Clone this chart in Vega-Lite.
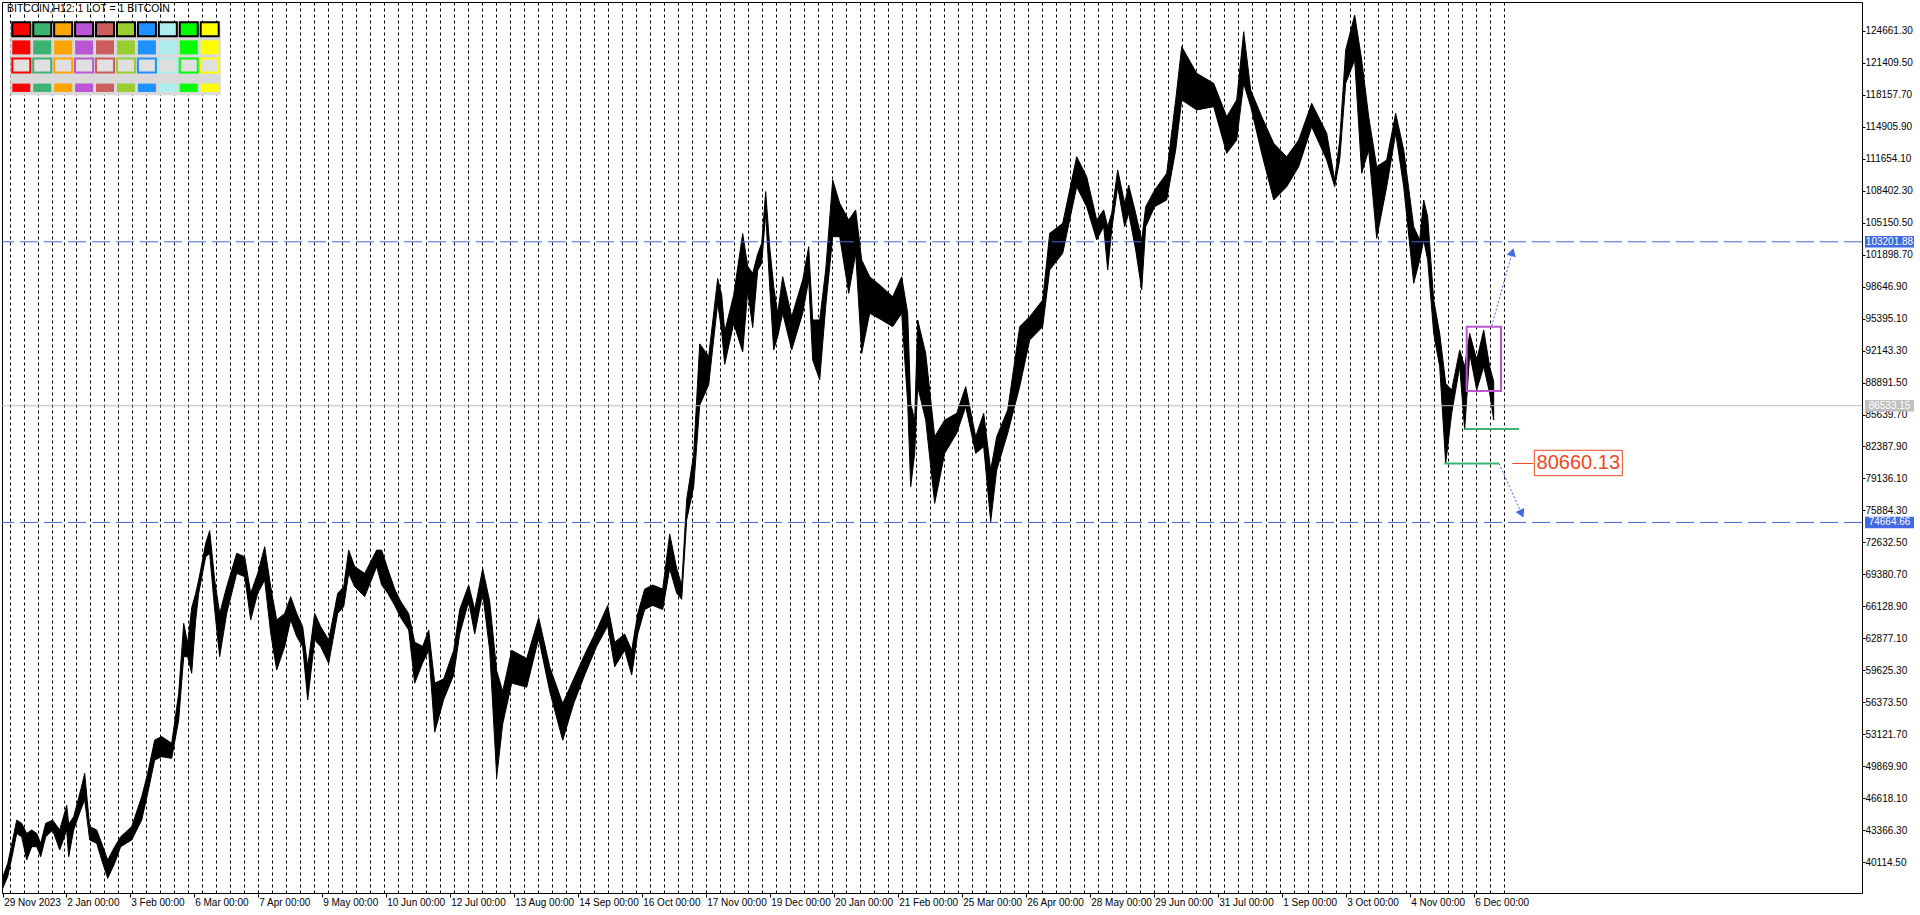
{
  "$schema": "https://vega.github.io/schema/vega-lite/v6.json",
  "width": 1860,
  "height": 891,
  "autosize": {"type": "none"},
  "padding": {"left": 2, "top": 2, "right": 58, "bottom": 22},
  "background": "white",
  "config": {"font": "Liberation Sans", "view": {"stroke": "black", "strokeWidth": 1, "fill": "white"}},
  "resolve": {"scale": {"x": "independent", "y": "independent"}, "axis": {"x": "independent", "y": "independent"}},
  "layer": [
    {
      "resolve": {"axis": {"x": "independent", "y": "independent"}},
      "layer": [
        {
          "data": {"values": [
            {"t":"2023-12-01T12:00","lo":37470,"hi":38600},{"t":"2023-12-04T00:00","lo":38650,"hi":40000},{"t":"2023-12-06T12:00","lo":41000,"hi":42380},{"t":"2023-12-08T12:00","lo":43050,"hi":44400},{"t":"2023-12-11T00:00","lo":42700,"hi":44070},{"t":"2023-12-13T12:00","lo":40350,"hi":43050},{"t":"2023-12-16T00:00","lo":41700,"hi":43400},{"t":"2023-12-18T12:00","lo":41700,"hi":43050},{"t":"2023-12-20T12:00","lo":40680,"hi":42040},{"t":"2023-12-23T00:00","lo":42700,"hi":44070},{"t":"2023-12-26T12:00","lo":43400,"hi":44400},{"t":"2023-12-30T00:00","lo":41360,"hi":43400},
            {"t":"2024-01-02T12:00","lo":43400,"hi":45900},{"t":"2024-01-03T12:00","lo":40680,"hi":44000},{"t":"2024-01-06T00:00","lo":43400,"hi":44750},{"t":"2024-01-09T12:00","lo":45430,"hi":47460},{"t":"2024-01-11T12:00","lo":46450,"hi":49160},{"t":"2024-01-14T00:00","lo":42380,"hi":43740},{"t":"2024-01-17T12:00","lo":42040,"hi":43400},{"t":"2024-01-20T00:00","lo":40350,"hi":42040},{"t":"2024-01-23T00:00","lo":38480,"hi":40350},{"t":"2024-01-26T12:00","lo":40010,"hi":41700},{"t":"2024-01-29T12:00","lo":41700,"hi":42720},
            {"t":"2024-02-04T00:00","lo":42380,"hi":43740},{"t":"2024-02-09T00:00","lo":44410,"hi":46780},{"t":"2024-02-12T00:00","lo":47120,"hi":49160},{"t":"2024-02-15T12:00","lo":50510,"hi":52540},{"t":"2024-02-19T00:00","lo":50850,"hi":52890},{"t":"2024-02-24T00:00","lo":50680,"hi":52210},{"t":"2024-02-27T12:00","lo":54580,"hi":57290},
            {"t":"2024-03-01T00:00","lo":61020,"hi":64410},{"t":"2024-03-03T00:00","lo":61020,"hi":62370},{"t":"2024-03-05T00:00","lo":59330,"hi":66000},{"t":"2024-03-07T00:00","lo":64750,"hi":67460},{"t":"2024-03-08T12:00","lo":67460,"hi":68810},{"t":"2024-03-12T00:00","lo":71180,"hi":72540},{"t":"2024-03-14T00:00","lo":71520,"hi":73830},{"t":"2024-03-16T12:00","lo":65760,"hi":68810},{"t":"2024-03-19T00:00","lo":61020,"hi":65420},{"t":"2024-03-22T12:00","lo":65420,"hi":68130},{"t":"2024-03-27T12:00","lo":69490,"hi":71520},{"t":"2024-03-31T12:00","lo":69150,"hi":71180},
            {"t":"2024-04-03T12:00","lo":64750,"hi":67460},{"t":"2024-04-07T00:00","lo":67460,"hi":69490},{"t":"2024-04-10T12:00","lo":68810,"hi":72200},{"t":"2024-04-13T12:00","lo":63400,"hi":68130},{"t":"2024-04-16T12:00","lo":59660,"hi":64750},{"t":"2024-04-20T12:00","lo":62040,"hi":65420},{"t":"2024-04-23T12:00","lo":64750,"hi":67120},{"t":"2024-04-26T12:00","lo":63060,"hi":65420},{"t":"2024-04-29T12:00","lo":62040,"hi":64070},
            {"t":"2024-05-02T00:00","lo":56610,"hi":60000},{"t":"2024-05-05T12:00","lo":62710,"hi":65420},{"t":"2024-05-08T12:00","lo":62040,"hi":64070},{"t":"2024-05-12T12:00","lo":60340,"hi":62710},{"t":"2024-05-17T00:00","lo":65420,"hi":67460},{"t":"2024-05-20T00:00","lo":66100,"hi":68130},{"t":"2024-05-22T12:00","lo":69490,"hi":71860},{"t":"2024-05-25T12:00","lo":68130,"hi":70170},{"t":"2024-05-30T12:00","lo":67120,"hi":69490},
            {"t":"2024-06-05T12:00","lo":70170,"hi":71860},{"t":"2024-06-08T00:00","lo":68300,"hi":71840},{"t":"2024-06-11T00:00","lo":67470,"hi":69970},{"t":"2024-06-14T12:00","lo":66230,"hi":67890},{"t":"2024-06-17T12:00","lo":64980,"hi":66640},{"t":"2024-06-21T12:00","lo":63730,"hi":65400},{"t":"2024-06-24T12:00","lo":58330,"hi":62490},{"t":"2024-06-28T12:00","lo":60410,"hi":62070},
            {"t":"2024-07-01T12:00","lo":61660,"hi":63730},{"t":"2024-07-04T12:00","lo":53350,"hi":58330},{"t":"2024-07-09T00:00","lo":56670,"hi":58750},{"t":"2024-07-14T00:00","lo":59160,"hi":61660},{"t":"2024-07-17T00:00","lo":63320,"hi":65810},{"t":"2024-07-21T12:00","lo":66640,"hi":68300},{"t":"2024-07-24T12:00","lo":63320,"hi":65810},{"t":"2024-07-28T12:00","lo":67470,"hi":69970},
            {"t":"2024-08-01T00:00","lo":61660,"hi":66640},{"t":"2024-08-04T12:00","lo":48780,"hi":59580},{"t":"2024-08-07T12:00","lo":54180,"hi":57500},{"t":"2024-08-12T00:00","lo":58330,"hi":61660},{"t":"2024-08-19T12:00","lo":57920,"hi":60830},{"t":"2024-08-25T12:00","lo":62900,"hi":64980},{"t":"2024-08-31T00:00","lo":57500,"hi":59990},
            {"t":"2024-09-06T12:00","lo":52520,"hi":56250},{"t":"2024-09-12T00:00","lo":56250,"hi":58750},{"t":"2024-09-17T12:00","lo":59160,"hi":61240},{"t":"2024-09-23T12:00","lo":62070,"hi":63730},{"t":"2024-09-29T00:00","lo":64150,"hi":66230},
            {"t":"2024-10-02T12:00","lo":59990,"hi":62490},{"t":"2024-10-07T12:00","lo":61660,"hi":63320},{"t":"2024-10-11T00:00","lo":59160,"hi":61660},{"t":"2024-10-14T00:00","lo":63320,"hi":65400},{"t":"2024-10-17T12:00","lo":65810,"hi":67890},{"t":"2024-10-21T12:00","lo":66230,"hi":68300},{"t":"2024-10-26T12:00","lo":65810,"hi":67890},{"t":"2024-10-30T00:00","lo":69970,"hi":73500},
            {"t":"2024-11-02T12:00","lo":67470,"hi":69970},{"t":"2024-11-05T00:00","lo":66850,"hi":68300},{"t":"2024-11-07T12:00","lo":74950,"hi":77030},{"t":"2024-11-11T00:00","lo":78280,"hi":81600},{"t":"2024-11-14T00:00","lo":86590,"hi":92820},{"t":"2024-11-18T12:00","lo":88660,"hi":91570},{"t":"2024-11-23T00:00","lo":96970,"hi":99470},{"t":"2024-11-25T00:00","lo":94060,"hi":97800},{"t":"2024-11-26T12:00","lo":90740,"hi":94060},
            {"t":"2024-12-01T00:00","lo":94900,"hi":97800},{"t":"2024-12-05T12:00","lo":91990,"hi":104040},{"t":"2024-12-08T00:00","lo":98220,"hi":100710},{"t":"2024-12-10T12:00","lo":94480,"hi":100000},{"t":"2024-12-13T00:00","lo":100300,"hi":101960},{"t":"2024-12-15T00:00","lo":101010,"hi":103040},{"t":"2024-12-17T00:00","lo":106090,"hi":108300},{"t":"2024-12-19T00:00","lo":98640,"hi":102700},{"t":"2024-12-21T00:00","lo":92200,"hi":98640},{"t":"2024-12-23T00:00","lo":93550,"hi":95930},{"t":"2024-12-25T12:00","lo":95930,"hi":99650},{"t":"2024-12-30T00:00","lo":92200,"hi":95590},
            {"t":"2025-01-04T12:00","lo":95930,"hi":99320},{"t":"2025-01-07T12:00","lo":99320,"hi":102700},{"t":"2025-01-09T12:00","lo":91180,"hi":95250},{"t":"2025-01-13T00:00","lo":89150,"hi":95250},{"t":"2025-01-16T00:00","lo":96600,"hi":100330},{"t":"2025-01-19T12:00","lo":103720,"hi":109480},{"t":"2025-01-23T00:00","lo":103720,"hi":107110},{"t":"2025-01-27T12:00","lo":97960,"hi":105420},{"t":"2025-01-31T00:00","lo":102030,"hi":106430},
            {"t":"2025-02-03T00:00","lo":91860,"hi":101350},{"t":"2025-02-07T00:00","lo":95930,"hi":99650},{"t":"2025-02-13T00:00","lo":95250,"hi":98640},{"t":"2025-02-18T12:00","lo":94570,"hi":97620},{"t":"2025-02-23T00:00","lo":95930,"hi":99650},{"t":"2025-02-26T00:00","lo":86780,"hi":95930},{"t":"2025-02-27T12:00","lo":78300,"hi":86780},
            {"t":"2025-03-01T12:00","lo":81690,"hi":85080},{"t":"2025-03-03T00:00","lo":88470,"hi":95250},{"t":"2025-03-07T00:00","lo":85080,"hi":91860},{"t":"2025-03-11T12:00","lo":76610,"hi":83390},{"t":"2025-03-16T12:00","lo":81690,"hi":85080},{"t":"2025-03-22T12:00","lo":83730,"hi":85760},{"t":"2025-03-27T00:00","lo":86440,"hi":88470},
            {"t":"2025-04-01T00:00","lo":81690,"hi":83390},{"t":"2025-04-05T00:00","lo":82370,"hi":85760},{"t":"2025-04-08T12:00","lo":74740,"hi":80000},{"t":"2025-04-11T12:00","lo":80000,"hi":83390},{"t":"2025-04-17T00:00","lo":83730,"hi":86100},{"t":"2025-04-23T00:00","lo":88470,"hi":94570},{"t":"2025-04-28T00:00","lo":93210,"hi":95590},
            {"t":"2025-05-04T12:00","lo":94570,"hi":97280},{"t":"2025-05-08T00:00","lo":100330,"hi":104060},{"t":"2025-05-14T12:00","lo":102030,"hi":105080},{"t":"2025-05-21T12:00","lo":108800,"hi":111850},{"t":"2025-05-26T12:00","lo":106770,"hi":109820},{"t":"2025-05-31T12:00","lo":103380,"hi":105420},
            {"t":"2025-06-04T00:00","lo":104740,"hi":106430},{"t":"2025-06-06T00:00","lo":100330,"hi":104740},{"t":"2025-06-08T00:00","lo":104400,"hi":106090},{"t":"2025-06-11T00:00","lo":108800,"hi":110500},{"t":"2025-06-14T12:00","lo":104740,"hi":107110},{"t":"2025-06-16T12:00","lo":106090,"hi":108970},{"t":"2025-06-20T00:00","lo":102370,"hi":106090},{"t":"2025-06-23T00:00","lo":98300,"hi":103380},{"t":"2025-06-25T00:00","lo":104740,"hi":106770},{"t":"2025-06-29T12:00","lo":106770,"hi":108470},
            {"t":"2025-07-05T12:00","lo":107450,"hi":110160},{"t":"2025-07-10T00:00","lo":112530,"hi":117620},{"t":"2025-07-13T00:00","lo":117620,"hi":123040},{"t":"2025-07-20T12:00","lo":116600,"hi":120330},{"t":"2025-07-29T00:00","lo":116940,"hi":119310},
            {"t":"2025-08-04T12:00","lo":112190,"hi":115920},{"t":"2025-08-09T12:00","lo":113550,"hi":117620},{"t":"2025-08-13T00:00","lo":119310,"hi":124560},{"t":"2025-08-16T12:00","lo":116940,"hi":118630},{"t":"2025-08-22T00:00","lo":112190,"hi":115920},{"t":"2025-08-28T00:00","lo":107450,"hi":113210},
            {"t":"2025-09-03T12:00","lo":108800,"hi":111850},{"t":"2025-09-09T12:00","lo":110840,"hi":113550},{"t":"2025-09-16T00:00","lo":114900,"hi":117280},{"t":"2025-09-23T12:00","lo":111520,"hi":114230},{"t":"2025-09-27T12:00","lo":108800,"hi":109480},{"t":"2025-09-30T00:00","lo":111520,"hi":113550},
            {"t":"2025-10-03T00:00","lo":119310,"hi":122700},{"t":"2025-10-07T12:00","lo":121680,"hi":126260},{"t":"2025-10-11T00:00","lo":110160,"hi":121680},{"t":"2025-10-14T12:00","lo":112530,"hi":115920},{"t":"2025-10-18T12:00","lo":103550,"hi":110840},{"t":"2025-10-23T12:00","lo":108800,"hi":111520},{"t":"2025-10-28T00:00","lo":114230,"hi":116260},
            {"t":"2025-11-01T00:00","lo":108800,"hi":112530},{"t":"2025-11-06T00:00","lo":98980,"hi":104740},{"t":"2025-11-09T00:00","lo":101350,"hi":103380},{"t":"2025-11-11T00:00","lo":103380,"hi":107450},{"t":"2025-11-13T00:00","lo":101350,"hi":105750},{"t":"2025-11-16T00:00","lo":93890,"hi":97280},{"t":"2025-11-19T00:00","lo":90500,"hi":93890},{"t":"2025-11-22T00:00","lo":80660,"hi":88810},{"t":"2025-11-25T00:00","lo":85760,"hi":88130},{"t":"2025-11-29T00:00","lo":90500,"hi":92200},
            {"t":"2025-12-01T12:00","lo":84070,"hi":90500},{"t":"2025-12-04T00:00","lo":91860,"hi":93890},{"t":"2025-12-07T12:00","lo":88130,"hi":91180},{"t":"2025-12-11T00:00","lo":90500,"hi":94230},{"t":"2025-12-14T00:00","lo":87790,"hi":90500},{"t":"2025-12-16T00:00","lo":85080,"hi":89000}
          ]},
          "mark": {"type": "area", "color": "black", "stroke": "black", "strokeWidth": 1},
          "encoding": {
            "x": {
              "field": "t", "type": "temporal", "title": null,
              "scale": {"domain": [{"year":2023,"month":12,"date":1,"hours":3,"minutes":36},{"year":2026,"month":6,"date":18,"hours":3,"minutes":36}]},
              "axis": {
                "orient": "bottom",
                "values": [{"year":2023,"month":12,"date":1,"hours":12},{"year":2024,"month":1,"date":2},{"year":2024,"month":2,"date":3},{"year":2024,"month":3,"date":6},{"year":2024,"month":4,"date":7},{"year":2024,"month":5,"date":9},{"year":2024,"month":6,"date":10},{"year":2024,"month":7,"date":12},{"year":2024,"month":8,"date":13},{"year":2024,"month":9,"date":14},{"year":2024,"month":10,"date":16},{"year":2024,"month":11,"date":17},{"year":2024,"month":12,"date":19},{"year":2025,"month":1,"date":20},{"year":2025,"month":2,"date":21},{"year":2025,"month":3,"date":25},{"year":2025,"month":4,"date":26},{"year":2025,"month":5,"date":28},{"year":2025,"month":6,"date":29},{"year":2025,"month":7,"date":31},{"year":2025,"month":9,"date":1},{"year":2025,"month":10,"date":3},{"year":2025,"month":11,"date":4},{"year":2025,"month":12,"date":6}],
                "labelExpr": "datum.value < datetime(2023, 11, 20) ? '29 Nov 2023' : timeFormat(datum.value, '%-d %b %H:%M')",
                "grid": false, "domain": true, "domainColor": "black", "ticks": true, "tickColor": "black", "tickSize": 4,
                "labelAlign": "left", "labelBaseline": "top", "labelPadding": 0, "labelOffset": 1,
                "labelFont": "Liberation Sans", "labelFontSize": 10, "labelColor": "black",
                "labelOverlap": false, "labelFlush": false, "labelBound": false, "title": null
              }
            },
            "y": {
              "field": "lo", "type": "quantitative", "title": null,
              "scale": {"domain": [36991, 127579], "nice": false, "zero": false},
              "axis": {
                "orient": "right",
                "values": [40114.5,43366.3,46618.1,49869.9,53121.7,56373.5,59625.3,62877.1,66128.9,69380.7,72632.5,75884.3,79136.1,82387.9,85639.7,88891.5,92143.3,95395.1,98646.9,101898.7,105150.5,108402.3,111654.1,114905.9,118157.7,121409.5,124661.3],
                "format": ".2f", "grid": false, "domain": true, "domainColor": "black", "ticks": true, "tickColor": "black", "tickSize": 3,
                "labelPadding": 0, "labelFont": "Liberation Sans", "labelFontSize": 10, "labelColor": "black",
                "labelOverlap": false, "labelFlush": false, "labelBound": false, "title": null
              }
            },
            "y2": {"field": "hi"}
          }
        },
        {
          "data": {"values": [{"from":"2025-12-01T07:12","to":"2025-12-28T15:36","level":84170},{"from":"2025-11-21T07:12","to":"2025-12-18T15:36","level":80660.13}]},
          "mark": {"type": "rule", "color": "#3CB371", "strokeWidth": 2},
          "encoding": {
            "x": {
              "field": "from", "type": "temporal", "title": null,
              "axis": {
                "orient": "top", "grid": true, "gridColor": "black", "gridDash": [3, 3], "gridWidth": 1, "gridOpacity": 1,
                "labels": false, "ticks": false, "domain": false, "title": null,
                "values": [
                  {"year":2023,"month":12,"date":5,"hours":7,"minutes":12},{"year":2023,"month":12,"date":12,"hours":7,"minutes":12},{"year":2023,"month":12,"date":19,"hours":7,"minutes":12},{"year":2023,"month":12,"date":26,"hours":7,"minutes":12},
                  {"year":2024,"month":1,"date":1,"hours":7,"minutes":12},{"year":2024,"month":1,"date":7,"hours":7,"minutes":12},{"year":2024,"month":1,"date":14,"hours":7,"minutes":12},{"year":2024,"month":1,"date":21,"hours":7,"minutes":12},{"year":2024,"month":1,"date":28,"hours":7,"minutes":12},
                  {"year":2024,"month":2,"date":4,"hours":7,"minutes":12},{"year":2024,"month":2,"date":11,"hours":7,"minutes":12},{"year":2024,"month":2,"date":18,"hours":7,"minutes":12},{"year":2024,"month":2,"date":25,"hours":7,"minutes":12},
                  {"year":2024,"month":3,"date":3,"hours":7,"minutes":12},{"year":2024,"month":3,"date":10,"hours":7,"minutes":12},{"year":2024,"month":3,"date":17,"hours":7,"minutes":12},{"year":2024,"month":3,"date":24,"hours":7,"minutes":12},{"year":2024,"month":3,"date":31,"hours":7,"minutes":12},
                  {"year":2024,"month":4,"date":7,"hours":7,"minutes":12},{"year":2024,"month":4,"date":14,"hours":7,"minutes":12},{"year":2024,"month":4,"date":21,"hours":7,"minutes":12},{"year":2024,"month":4,"date":28,"hours":7,"minutes":12},
                  {"year":2024,"month":5,"date":5,"hours":7,"minutes":12},{"year":2024,"month":5,"date":12,"hours":7,"minutes":12},{"year":2024,"month":5,"date":19,"hours":7,"minutes":12},{"year":2024,"month":5,"date":26,"hours":7,"minutes":12},
                  {"year":2024,"month":6,"date":2,"hours":7,"minutes":12},{"year":2024,"month":6,"date":9,"hours":7,"minutes":12},{"year":2024,"month":6,"date":16,"hours":7,"minutes":12},{"year":2024,"month":6,"date":23,"hours":7,"minutes":12},{"year":2024,"month":6,"date":30,"hours":7,"minutes":12},
                  {"year":2024,"month":7,"date":7,"hours":7,"minutes":12},{"year":2024,"month":7,"date":14,"hours":7,"minutes":12},{"year":2024,"month":7,"date":21,"hours":7,"minutes":12},{"year":2024,"month":7,"date":28,"hours":7,"minutes":12},
                  {"year":2024,"month":8,"date":4,"hours":7,"minutes":12},{"year":2024,"month":8,"date":11,"hours":7,"minutes":12},{"year":2024,"month":8,"date":18,"hours":7,"minutes":12},{"year":2024,"month":8,"date":25,"hours":7,"minutes":12},
                  {"year":2024,"month":9,"date":1,"hours":7,"minutes":12},{"year":2024,"month":9,"date":8,"hours":7,"minutes":12},{"year":2024,"month":9,"date":15,"hours":7,"minutes":12},{"year":2024,"month":9,"date":22,"hours":7,"minutes":12},{"year":2024,"month":9,"date":29,"hours":7,"minutes":12},
                  {"year":2024,"month":10,"date":6,"hours":7,"minutes":12},{"year":2024,"month":10,"date":13,"hours":7,"minutes":12},{"year":2024,"month":10,"date":20,"hours":7,"minutes":12},{"year":2024,"month":10,"date":27,"hours":7,"minutes":12},
                  {"year":2024,"month":11,"date":3,"hours":7,"minutes":12},{"year":2024,"month":11,"date":10,"hours":7,"minutes":12},{"year":2024,"month":11,"date":17,"hours":7,"minutes":12},{"year":2024,"month":11,"date":24,"hours":7,"minutes":12},
                  {"year":2024,"month":12,"date":1,"hours":7,"minutes":12},{"year":2024,"month":12,"date":8,"hours":7,"minutes":12},{"year":2024,"month":12,"date":15,"hours":7,"minutes":12},{"year":2024,"month":12,"date":22,"hours":7,"minutes":12},{"year":2024,"month":12,"date":29,"hours":7,"minutes":12},
                  {"year":2025,"month":1,"date":5,"hours":7,"minutes":12},{"year":2025,"month":1,"date":12,"hours":7,"minutes":12},{"year":2025,"month":1,"date":19,"hours":7,"minutes":12},{"year":2025,"month":1,"date":26,"hours":7,"minutes":12},
                  {"year":2025,"month":2,"date":2,"hours":7,"minutes":12},{"year":2025,"month":2,"date":9,"hours":7,"minutes":12},{"year":2025,"month":2,"date":16,"hours":7,"minutes":12},{"year":2025,"month":2,"date":23,"hours":7,"minutes":12},
                  {"year":2025,"month":3,"date":2,"hours":7,"minutes":12},{"year":2025,"month":3,"date":9,"hours":7,"minutes":12},{"year":2025,"month":3,"date":16,"hours":7,"minutes":12},{"year":2025,"month":3,"date":23,"hours":7,"minutes":12},{"year":2025,"month":3,"date":30,"hours":7,"minutes":12},
                  {"year":2025,"month":4,"date":6,"hours":7,"minutes":12},{"year":2025,"month":4,"date":13,"hours":7,"minutes":12},{"year":2025,"month":4,"date":20,"hours":7,"minutes":12},{"year":2025,"month":4,"date":27,"hours":7,"minutes":12},
                  {"year":2025,"month":5,"date":4,"hours":7,"minutes":12},{"year":2025,"month":5,"date":11,"hours":7,"minutes":12},{"year":2025,"month":5,"date":18,"hours":7,"minutes":12},{"year":2025,"month":5,"date":25,"hours":7,"minutes":12},
                  {"year":2025,"month":6,"date":1,"hours":7,"minutes":12},{"year":2025,"month":6,"date":8,"hours":7,"minutes":12},{"year":2025,"month":6,"date":15,"hours":7,"minutes":12},{"year":2025,"month":6,"date":22,"hours":7,"minutes":12},{"year":2025,"month":6,"date":29,"hours":7,"minutes":12},
                  {"year":2025,"month":7,"date":6,"hours":7,"minutes":12},{"year":2025,"month":7,"date":13,"hours":7,"minutes":12},{"year":2025,"month":7,"date":20,"hours":7,"minutes":12},{"year":2025,"month":7,"date":27,"hours":7,"minutes":12},
                  {"year":2025,"month":8,"date":3,"hours":7,"minutes":12},{"year":2025,"month":8,"date":10,"hours":7,"minutes":12},{"year":2025,"month":8,"date":17,"hours":7,"minutes":12},{"year":2025,"month":8,"date":24,"hours":7,"minutes":12},{"year":2025,"month":8,"date":31,"hours":7,"minutes":12},
                  {"year":2025,"month":9,"date":7,"hours":7,"minutes":12},{"year":2025,"month":9,"date":14,"hours":7,"minutes":12},{"year":2025,"month":9,"date":21,"hours":7,"minutes":12},{"year":2025,"month":9,"date":28,"hours":7,"minutes":12},
                  {"year":2025,"month":10,"date":5,"hours":7,"minutes":12},{"year":2025,"month":10,"date":12,"hours":7,"minutes":12},{"year":2025,"month":10,"date":19,"hours":7,"minutes":12},{"year":2025,"month":10,"date":26,"hours":7,"minutes":12},
                  {"year":2025,"month":11,"date":2,"hours":7,"minutes":12},{"year":2025,"month":11,"date":9,"hours":7,"minutes":12},{"year":2025,"month":11,"date":16,"hours":7,"minutes":12},{"year":2025,"month":11,"date":23,"hours":7,"minutes":12},{"year":2025,"month":11,"date":30,"hours":7,"minutes":12},
                  {"year":2025,"month":12,"date":7,"hours":7,"minutes":12},{"year":2025,"month":12,"date":14,"hours":7,"minutes":12},{"year":2025,"month":12,"date":21,"hours":7,"minutes":12}
                ]
              }
            },
            "x2": {"field": "to"},
            "y": {"field": "level", "type": "quantitative", "title": null, "axis": null}
          }
        },
        {
          "data": {"values": [{"level": 103201.88}, {"level": 74664.66}]},
          "mark": {"type": "rule", "color": "#4169E1", "strokeWidth": 1, "strokeDash": [18, 6]},
          "encoding": {"y": {"field": "level", "type": "quantitative", "title": null, "axis": null}}
        },
        {
          "data": {"values": [{"level": 86533.15}]},
          "mark": {"type": "rule", "color": "#C0C0C0", "strokeWidth": 1},
          "encoding": {"y": {"field": "level", "type": "quantitative", "title": null, "axis": null}}
        },
        {
          "data": {"values": [{"start":"2025-12-02T12:00","end":"2025-12-19T15:36","high":94570,"low":88030}]},
          "mark": {"type": "rect", "filled": false, "color": "#BA55D3", "stroke": "#BA55D3", "strokeWidth": 2},
          "encoding": {
            "x": {"field": "start", "type": "temporal", "axis": null},
            "x2": {"field": "end"},
            "y": {"field": "high", "type": "quantitative", "title": null, "axis": null},
            "y2": {"field": "low"}
          }
        },
        {
          "data": {"values": [{"t1":"2025-12-15T00:00","p1":94640,"t2":"2025-12-25T07:12","p2":102150},{"t1":"2025-12-18T15:36","p1":80660,"t2":"2025-12-30T00:00","p2":75550}]},
          "mark": {"type": "rule", "color": "#4169E1", "strokeWidth": 1, "strokeDash": [2, 2]},
          "encoding": {
            "x": {"field": "t1", "type": "temporal", "axis": null},
            "x2": {"field": "t2"},
            "y": {"field": "p1", "type": "quantitative", "title": null, "axis": null},
            "y2": {"field": "p2"}
          }
        },
        {
          "data": {"values": [{"t":"2025-12-25T07:12","p":102150}]},
          "mark": {"type": "point", "shape": "triangle-up", "filled": true, "color": "#4169E1", "opacity": 1, "size": 90, "angle": 15},
          "encoding": {"x": {"field": "t", "type": "temporal", "axis": null}, "y": {"field": "p", "type": "quantitative", "title": null, "axis": null}}
        },
        {
          "data": {"values": [{"t":"2025-12-30T00:00","p":75550}]},
          "mark": {"type": "point", "shape": "triangle-up", "filled": true, "color": "#4169E1", "opacity": 1, "size": 90, "angle": 155.5},
          "encoding": {"x": {"field": "t", "type": "temporal", "axis": null}, "y": {"field": "p", "type": "quantitative", "title": null, "axis": null}}
        },
        {
          "data": {"values": [{"anchor":"2026-01-05T07:12","level":80660.13,"label":"80660.13"}]},
          "layer": [
            {
              "mark": {"type": "rule", "color": "#F0461E", "strokeWidth": 1, "xOffset": -22, "x2Offset": -1},
              "encoding": {"x": {"field": "anchor", "type": "temporal", "axis": null}, "x2": {"field": "anchor"}, "y": {"field": "level", "type": "quantitative", "title": null, "axis": null}}
            },
            {
              "mark": {"type": "rect", "fill": "white", "stroke": "#F0461E", "strokeWidth": 1, "x2Offset": 88, "yOffset": -13.2, "y2Offset": 12.2},
              "encoding": {"x": {"field": "anchor", "type": "temporal", "axis": null}, "x2": {"field": "anchor"}, "y": {"field": "level", "type": "quantitative", "title": null, "axis": null}, "y2": {"field": "level"}}
            },
            {
              "mark": {"type": "text", "dx": 44, "align": "center", "baseline": "middle", "color": "#F0461E", "fontSize": 20, "font": "Liberation Sans"},
              "encoding": {"x": {"field": "anchor", "type": "temporal", "axis": null}, "y": {"field": "level", "type": "quantitative", "title": null, "axis": null}, "text": {"field": "label"}}
            }
          ]
        },
        {
          "data": {"values": [{"level":103201.88,"label":"103201.88","kind":"line"},{"level":74664.66,"label":"74664.66","kind":"line"},{"level":86533.15,"label":"86533.15","kind":"bid"}]},
          "layer": [
            {
              "mark": {"type": "rect", "xOffset": 3, "x2Offset": 52, "yOffset": -5.8, "y2Offset": 5.8},
              "encoding": {
                "x": {"value": "width"}, "x2": {"value": "width"},
                "y": {"field": "level", "type": "quantitative", "title": null, "axis": null}, "y2": {"field": "level"},
                "fill": {"field": "kind", "type": "nominal", "scale": {"domain": ["line", "bid"], "range": ["#4169E1", "#C0C0C0"]}, "legend": null}
              }
            },
            {
              "mark": {"type": "text", "dx": 27.5, "align": "center", "baseline": "middle", "color": "white", "fontSize": 10, "font": "Liberation Sans"},
              "encoding": {"x": {"value": "width"}, "y": {"field": "level", "type": "quantitative", "title": null, "axis": null}, "text": {"field": "label"}}
            }
          ]
        }
      ]
    },
    {
      "data": {"values": [{"c":0,"color":"#FF0000"},{"c":1,"color":"#3CB371"},{"c":2,"color":"#FFA500"},{"c":3,"color":"#BA55D3"},{"c":4,"color":"#CD5C5C"},{"c":5,"color":"#9ACD32"},{"c":6,"color":"#1E90FF"},{"c":7,"color":"#AFEEEE"},{"c":8,"color":"#00FF00"},{"c":9,"color":"#FFFF00"}]},
      "layer": [
        {
          "mark": {"type": "rect", "fill": "#d9d9d9", "stroke": "#d9d9d9", "strokeWidth": 4, "yOffset": -2, "y2Offset": 9.7},
          "encoding": {
            "x": {"field": "c", "type": "ordinal", "scale": {"domain": [0,1,2,3,4,5,6,7,8,9], "range": [6, 221], "paddingInner": 0.14, "paddingOuter": 0.205}, "axis": null},
            "y": {"datum": 0, "type": "ordinal", "scale": {"domain": [0,1,2,3], "range": [16.3, 92.6], "paddingInner": 0.227, "paddingOuter": 0.22}, "axis": null},
            "y2": {"datum": 3}
          }
        },
        {
          "mark": {"type": "rect", "stroke": "black", "strokeWidth": 2},
          "encoding": {
            "x": {"field": "c", "type": "ordinal", "axis": null},
            "y": {"datum": 0, "type": "ordinal", "axis": null},
            "fill": {"field": "color", "type": "nominal", "scale": null}
          }
        },
        {
          "mark": {"type": "rect"},
          "encoding": {
            "x": {"field": "c", "type": "ordinal", "axis": null},
            "y": {"datum": 1, "type": "ordinal", "axis": null},
            "fill": {"field": "color", "type": "nominal", "scale": null}
          }
        },
        {
          "mark": {"type": "rect", "fill": "#e0e0e0", "strokeWidth": 2},
          "encoding": {
            "x": {"field": "c", "type": "ordinal", "axis": null},
            "y": {"datum": 2, "type": "ordinal", "axis": null},
            "stroke": {"field": "color", "type": "nominal", "scale": null}
          }
        },
        {
          "mark": {"type": "rect", "y2Offset": 8.3},
          "encoding": {
            "x": {"field": "c", "type": "ordinal", "axis": null},
            "y": {"datum": 3, "type": "ordinal", "axis": null},
            "y2": {"datum": 3},
            "fill": {"field": "color", "type": "nominal", "scale": null}
          }
        },
        {
          "data": {"values": [{"txt": "BITCOIN,H12: 1 LOT = 1 BITCOIN"}]},
          "mark": {"type": "text", "align": "left", "baseline": "alphabetic", "dx": -14.3, "dy": -17, "fontSize": 10.5, "color": "black", "font": "Liberation Sans"},
          "encoding": {
            "x": {"datum": 0, "type": "ordinal", "axis": null},
            "y": {"datum": 0, "type": "ordinal", "axis": null},
            "text": {"field": "txt"}
          }
        }
      ]
    }
  ]
}
